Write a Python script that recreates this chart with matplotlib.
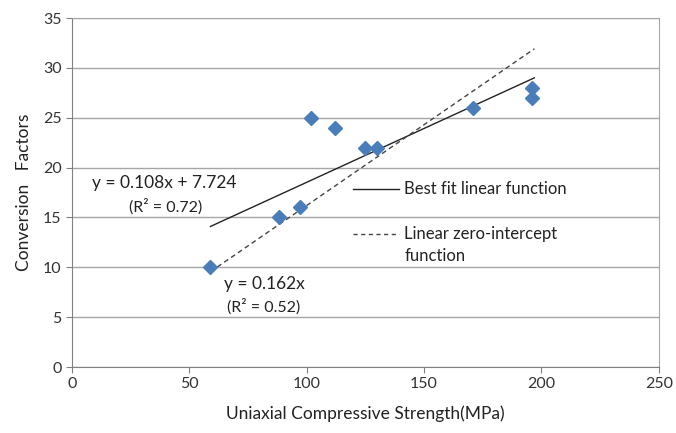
import matplotlib
matplotlib.use("Agg")
import matplotlib.pyplot as plt
import numpy as np

plt.rcParams['font.family'] = ['Lato', 'DejaVu Sans']

ucs = [59, 88, 97, 102, 112, 125, 130, 171, 196, 196]
factors = [10, 15, 16, 25, 24, 22, 22, 26, 28, 27]

fit_slope, fit_intercept = 0.108, 7.724
zero_slope = 0.162
fit_range = [59, 197]

xticks = [0, 50, 100, 150, 200, 250]
yticks = [0, 5, 10, 15, 20, 25, 30, 35]

fig = plt.figure(figsize=(6.76, 4.33), dpi=100)
ax = fig.add_axes([0.1065, 0.1524, 0.868, 0.806])

ax.set_xlim(0, 250)
ax.set_ylim(0, 35)
ax.set_xticks(xticks)
ax.set_yticks(yticks)
ax.yaxis.grid(True, color='#a6a6a6', linewidth=1.0)
ax.set_axisbelow(True)

for s in ['top', 'right']:
    ax.spines[s].set_color('#a6a6a6')
ax.spines['left'].set_color('#808080')
ax.spines['bottom'].set_color('#808080')
ax.tick_params(axis='both', colors='#808080', labelcolor='#333333', labelsize=11.5, length=4)

xf = np.array(fit_range, dtype=float)
ax.plot(xf, fit_slope * xf + fit_intercept, color='#222222', linewidth=1.0, zorder=2)
ax.plot(xf, zero_slope * xf, color='#444444', linewidth=1.0, linestyle=(0, (3.5, 2.5)), zorder=2)

ax.plot(ucs, factors, linestyle='none', marker='D', markersize=7.5, color='#4a7ebb', zorder=3)

# legend-like annotations
ax.plot([119.7, 139.5], [17.87, 17.87], color='#222222', linewidth=1.0)
ax.plot([119.7, 139.5], [13.3, 13.3], color='#444444', linewidth=1.0, linestyle=(0, (3, 2.5)))
ax.text(141.5, 17.87, 'Best fit linear function', fontsize=12, va='center', ha='left', color='#222222')
ax.text(141.5, 13.3, 'Linear zero-intercept', fontsize=12, va='center', ha='left', color='#222222')
ax.text(141.5, 11.1, 'function', fontsize=12, va='center', ha='left', color='#222222')

ax.text(8.6, 18.47, 'y = 0.108x + 7.724', fontsize=12.5, va='center', ha='left', color='#222222')
ax.text(39.8, 16.1, '(R² = 0.72)', fontsize=11.5, va='center', ha='center', color='#222222')
ax.text(64.6, 8.35, 'y = 0.162x', fontsize=12.5, va='center', ha='left', color='#222222')
ax.text(81.5, 6.1, '(R² = 0.52)', fontsize=11.5, va='center', ha='center', color='#222222')

ax.set_xlabel('Uniaxial Compressive Strength(MPa)', fontsize=12.5, color='#222222', labelpad=10)
ax.set_ylabel('Conversion   Factors', fontsize=12.5, color='#222222', labelpad=8)

fig.savefig('out.png', dpi=100)
